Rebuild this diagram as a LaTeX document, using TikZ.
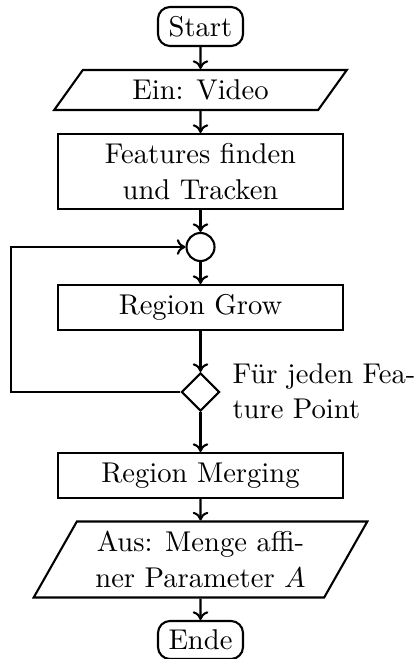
\documentclass[tikz,border=0pt,11pt]{standalone}
\usepackage{fontspec}
\usetikzlibrary{shapes.geometric,arrows.meta}
\def\u{0.383pt}
\tikzset{
  base/.style={draw, line width=0.8pt, inner sep=2pt, align=center},
  term/.style={base, rectangle, rounded corners=12*\u, minimum width=85*\u, minimum height=39*\u},
  io/.style={base, trapezium, trapezium left angle=60, trapezium right angle=120, trapezium stretches=true},
  proc/.style={base, rectangle, minimum width=285*\u},
  conn/.style={base, circle, minimum size=28*\u, inner sep=0pt},
  dec/.style={base, diamond, minimum width=38*\u, minimum height=38*\u, inner sep=0pt},
  arr/.style={-{To[length=3.3pt,width=6pt]}, line width=0.8pt},
}
\begin{document}
\begin{tikzpicture}[x=\u, y=-\u]
\useasboundingbox (0,0) rectangle (417,659);
\node[term] (start) at (200.5,26.5) {Start};
\node[io, minimum width=293*\u, minimum height=40*\u] (ein) at (200.5,90) {Ein: Video};
\node[proc, minimum height=75*\u] (feat) at (200.5,171.5) {Features finden\\und Tracken};
\node[conn] (circ) at (200.5,247) {};
\node[proc, minimum height=45*\u] (grow) at (200.5,307.5) {Region Grow};
\node[dec] (dec) at (200.5,392) {};
\node[align=left, anchor=west, inner sep=0pt] (lab) at (232,391) {Für jeden Fea-\\ture Point};
\node[proc, minimum height=45*\u] (merge) at (200.5,475.5) {Region Merging};
\node[io, minimum width=334*\u, minimum height=76*\u] (aus) at (200.5,559.5) {Aus: Menge affi-\\ner Parameter $A$};
\node[term, minimum height=38*\u] (ende) at (200.5,640) {Ende};
\coordinate (lp) at (11,392);
\draw[arr] (start) -- (ein);
\draw[arr] (ein) -- (feat);
\draw[arr] (feat) -- (circ);
\draw[arr] (circ) -- (grow);
\draw[arr] (grow) -- (dec);
\draw[arr] (dec) -- (merge);
\draw[arr] (dec.west) -- (lp) |- (circ.west);
\draw[arr] (merge) -- (aus);
\draw[arr] (aus) -- (ende);
\end{tikzpicture}
\end{document}
